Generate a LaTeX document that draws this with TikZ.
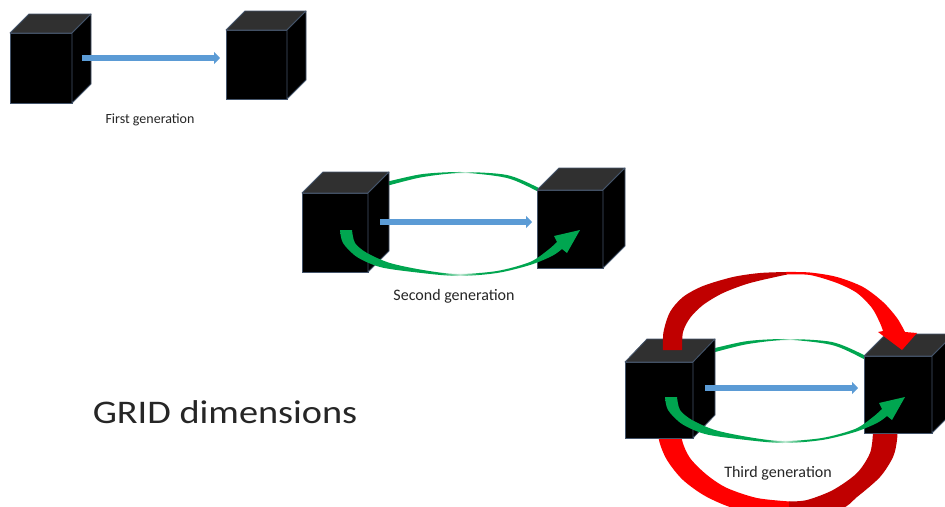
\documentclass[tikz,border=0pt]{standalone}
\usepackage{fontspec}
\setmainfont{Carlito}
\usepackage{graphicx}
\usepackage{tikz}
\usetikzlibrary{arrows.meta}
\definecolor{cubeEdge}{RGB}{68,84,106}
\definecolor{cubeTopColor}{RGB}{48,48,48}
\definecolor{flowBlue}{RGB}{91,155,213}
\definecolor{loopGreen}{RGB}{0,166,80}
\definecolor{loopRed}{RGB}{255,0,0}
\definecolor{loopDarkRed}{RGB}{192,0,0}
\pgfdeclarehorizontalshading{greenGlint}{100bp}{color(0bp)=(loopGreen); color(46bp)=(loopGreen); color(50bp)=(loopGreen!25!white); color(54bp)=(loopGreen); color(100bp)=(loopGreen)}

\begin{document}
\begin{tikzpicture}[x=1pt,y=-1pt]

          \tikzstyle{cubeFront} = [draw=cubeEdge, fill=black, line width=0.8pt, inner sep=0pt, outer sep=0pt, anchor=north west];
          \tikzstyle{cubeTop} = [draw=cubeEdge, fill=cubeTopColor, line width=0.8pt, line join=round];
          \tikzstyle{cubeSide} = [draw=cubeEdge, fill=black, line width=0.8pt, line join=round];
          \tikzstyle{flowArrow} = [flowBlue, line width=5.5pt, -{Triangle[length=6pt,width=12pt]}];
          \tikzstyle{greenArc} = [shading=greenGlint];
          \tikzstyle{genLabel} = [anchor=base, text=black!85, inner sep=0pt];

          \fill[white] (0,0) rectangle (945,506);
          \useasboundingbox (0,0) rectangle (945,506);
          \clip (0,0) rectangle (945,506);

          \coordinate (loopTwo) at (460,222);
          \coordinate (loopThree) at (785,389);

          \fill[loopRed] plot[smooth] coordinates {(659,420) (659,440) (667,460) (683,480) (707,497) (740,510) (790,516)} -- plot[smooth] coordinates {(790,501.5) (757,498) (727,488) (707,475) (690,458) (682,440) (681,420)} -- cycle;
          \fill[loopDarkRed] plot[smooth] coordinates {(789,516) (840,509) (857,497) (880,477) (893,457) (897,440) (898,420)} -- plot[smooth] coordinates {(873,420) (873,433) (870,453) (857,473) (833,490) (807,500) (789,501.5)} -- cycle;

          \begin{scope}[shift={(loopTwo)}]
            \shade[greenArc] plot[smooth] coordinates {(-75,-40) (-70,-41) (-37,-48) (3,-50) (47,-47) (77,-35) (85,-30)} -- plot[smooth] coordinates {(85,-26) (77,-31) (47,-44) (3,-49) (-37,-45) (-70,-37) (-75,-36)} -- cycle;
          \end{scope}
          \begin{scope}[shift={(loopThree)}]
            \shade[greenArc] plot[smooth] coordinates {(-75,-40) (-70,-41) (-37,-48) (3,-50) (47,-47) (77,-35) (85,-30)} -- plot[smooth] coordinates {(85,-26) (77,-31) (47,-44) (3,-49) (-37,-45) (-70,-37) (-75,-36)} -- cycle;
          \end{scope}

          \node[cubeFront, minimum width=62, minimum height=70] (firstLeft) at (10,33) {};
          \filldraw[cubeTop] (firstLeft.north west) -- (firstLeft.north east) -- ([shift={(19,-19)}]firstLeft.north east) -- ([shift={(19,-19)}]firstLeft.north west) -- cycle;
          \filldraw[cubeSide] (firstLeft.north east) -- ([shift={(19,-19)}]firstLeft.north east) -- ([shift={(19,-19)}]firstLeft.south east) -- (firstLeft.south east) -- cycle;

          \node[cubeFront, minimum width=61, minimum height=69] (firstRight) at (226,30) {};
          \filldraw[cubeTop] (firstRight.north west) -- (firstRight.north east) -- ([shift={(19,-19)}]firstRight.north east) -- ([shift={(19,-19)}]firstRight.north west) -- cycle;
          \filldraw[cubeSide] (firstRight.north east) -- ([shift={(19,-19)}]firstRight.north east) -- ([shift={(19,-19)}]firstRight.south east) -- (firstRight.south east) -- cycle;

          \node[cubeFront, minimum width=66, minimum height=79] (secondLeft) at (302,193) {};
          \filldraw[cubeTop] (secondLeft.north west) -- (secondLeft.north east) -- ([shift={(21,-21)}]secondLeft.north east) -- ([shift={(21,-21)}]secondLeft.north west) -- cycle;
          \filldraw[cubeSide] (secondLeft.north east) -- ([shift={(21,-21)}]secondLeft.north east) -- ([shift={(21,-21)}]secondLeft.south east) -- (secondLeft.south east) -- cycle;

          \node[cubeFront, minimum width=66, minimum height=78] (secondRight) at (537,190) {};
          \filldraw[cubeTop] (secondRight.north west) -- (secondRight.north east) -- ([shift={(22,-22)}]secondRight.north east) -- ([shift={(22,-22)}]secondRight.north west) -- cycle;
          \filldraw[cubeSide] (secondRight.north east) -- ([shift={(22,-22)}]secondRight.north east) -- ([shift={(22,-22)}]secondRight.south east) -- (secondRight.south east) -- cycle;

          \node[cubeFront, minimum width=68, minimum height=76] (thirdLeft) at (625,362) {};
          \filldraw[cubeTop] (thirdLeft.north west) -- (thirdLeft.north east) -- ([shift={(22,-23)}]thirdLeft.north east) -- ([shift={(22,-23)}]thirdLeft.north west) -- cycle;
          \filldraw[cubeSide] (thirdLeft.north east) -- ([shift={(22,-23)}]thirdLeft.north east) -- ([shift={(22,-23)}]thirdLeft.south east) -- (thirdLeft.south east) -- cycle;

          \node[cubeFront, minimum width=68, minimum height=77] (thirdRight) at (864,356) {};
          \filldraw[cubeTop] (thirdRight.north west) -- (thirdRight.north east) -- ([shift={(22,-22)}]thirdRight.north east) -- ([shift={(22,-22)}]thirdRight.north west) -- cycle;
          \filldraw[cubeSide] (thirdRight.north east) -- ([shift={(22,-22)}]thirdRight.north east) -- ([shift={(22,-22)}]thirdRight.south east) -- (thirdRight.south east) -- cycle;

          \draw[flowArrow] ([shift={(10,-10)}]firstLeft.east) -- ([shift={(-6,-6.5)}]firstRight.west);
          \draw[flowArrow] ([shift={(12,-10.5)}]secondLeft.east) -- ([shift={(-5,-7)}]secondRight.west);
          \draw[flowArrow] ([shift={(12,-12)}]thirdLeft.east) -- ([shift={(-6,-6.5)}]thirdRight.west);

          \begin{scope}[shift={(loopTwo)}]
            \shade[greenArc] plot[smooth] coordinates {(-120,8) (-117,21) (-103,35) (-80,45) (-47,50) (-3,54) (37,51) (70,43) (92,34) (102,27)} -- (107,31) -- (120,8) -- (94,14) -- plot[smooth] coordinates {(97,20) (88,28) (70,40) (37,49) (-3,52) (-37,48) (-70,41) (-93,31) (-105,21) (-108,8)} -- cycle;
          \end{scope}
          \begin{scope}[shift={(loopThree)}]
            \shade[greenArc] plot[smooth] coordinates {(-120,8) (-117,21) (-103,35) (-80,45) (-47,50) (-3,54) (37,51) (70,43) (92,34) (102,27)} -- (107,31) -- (120,8) -- (94,14) -- plot[smooth] coordinates {(97,20) (88,28) (70,40) (37,49) (-3,52) (-37,48) (-70,41) (-93,31) (-105,21) (-108,8)} -- cycle;
          \end{scope}

          \fill[loopDarkRed] plot[smooth] coordinates {(663,350) (663.5,332) (670,312) (683,297) (703,286) (733,277) (760,273) (787,272)} -- plot[smooth] coordinates {(787,274.5) (750,283) (723,293) (703,305) (690,318) (683,332) (682,350)} -- cycle;
          \fill[loopRed] plot[smooth] coordinates {(786,272) (810,272.5) (837,277) (863,287) (883,302) (897,318) (905,332)} -- (917,333) -- (902,350) -- (878,332) -- plot[smooth] coordinates {(883,331) (880,323) (872,308) (857,293) (837,283) (810,275) (786,274.5)} -- cycle;

          \node[genLabel, font=\fontsize{14}{17}\selectfont] (firstLabel) at (150,123) {First generation};
          \node[genLabel, font=\fontsize{16}{19}\selectfont] (secondLabel) at (454,300) {Second generation};
          \node[genLabel, font=\fontsize{16}{19}\selectfont] (thirdLabel) at (778,477) {Third generation};
          \node[genLabel, font=\fontsize{33}{40}\selectfont] (gridTitle) at (225,423) {\scalebox{1.16}[1]{GRID dimensions}};
        \end{tikzpicture}
\end{document}
